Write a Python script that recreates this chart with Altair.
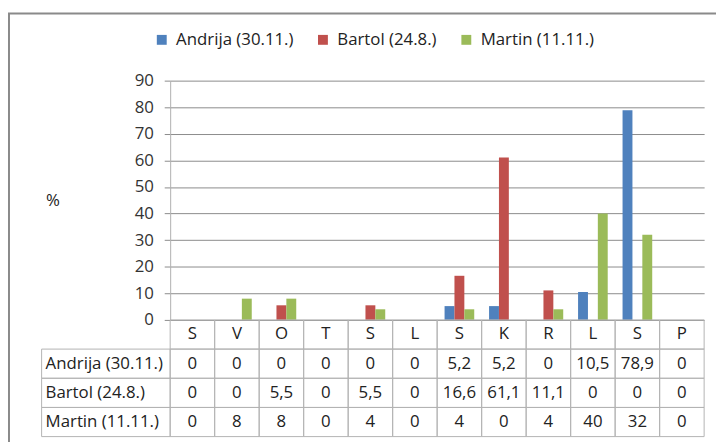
import altair as alt
import pandas as pd

categories = ["S", "V", "O", "T", "S", "L", "S", "K", "R", "L", "S", "P"]
series_names = ["Andrija (30.11.)", "Bartol (24.8.)", "Martin (11.11.)"]
andrija = [0, 0, 0, 0, 0, 0, 5.2, 5.2, 0, 10.5, 78.9, 0]
bartol = [0, 0, 5.5, 0, 5.5, 0, 16.6, 61.1, 11.1, 0, 0, 0]
martin = [0, 8, 8, 0, 4, 0, 4, 0, 4, 40, 32, 0]
colors = ["#4F81BD", "#C0504D", "#9BBB59"]
y_ticks = [0, 10, 20, 30, 40, 50, 60, 70, 80, 90]

FONT = "Open Sans"
FS = 17


def fmt(v):
    return f"{v:g}".replace(".", ",")


rows = []
for i, c in enumerate(categories):
    for s, vals in zip(series_names, [andrija, bartol, martin]):
        rows.append(dict(idx=i, cat=c, series=s, value=vals[i]))
bars_df = pd.DataFrame(rows)

table_rows = []
for i, c in enumerate(categories):
    table_rows.append(dict(idx=i, row="cat", label=c))
    for s, vals in zip(series_names, [andrija, bartol, martin]):
        table_rows.append(dict(idx=i, row=s, label=fmt(vals[i])))
table_df = pd.DataFrame(table_rows)
rowlab_df = pd.DataFrame({"row": series_names})

x_enc = alt.X("idx:O", scale=alt.Scale(paddingInner=0, paddingOuter=0), axis=None)
ty = alt.Y(
    "row:N",
    scale=alt.Scale(domain=["cat"] + series_names, range=[242, 360], paddingInner=0, paddingOuter=0),
    axis=None,
)

frame = alt.Chart(pd.DataFrame({"a": [0]})).mark_rect(
    fill="transparent", stroke="#8a8a8a", strokeWidth=2
).encode(x=alt.value(-163), x2=alt.value(620), y=alt.value(-68), y2=alt.value(420))

bars = alt.Chart(bars_df).mark_bar().encode(
    x=x_enc,
    xOffset=alt.XOffset(
        "series:N",
        scale=alt.Scale(domain=series_names, paddingInner=0, paddingOuter=0.75),
    ),
    y=alt.Y(
        "value:Q",
        scale=alt.Scale(domain=[0, 90], range=[242, 0]),
        axis=alt.Axis(
            values=y_ticks,
            title="%",
            titleAngle=0,
            titleX=-126,
            titleY=121,
            titleAlign="left",
            titleBaseline="middle",
            titleFont=FONT,
            titleFontSize=FS,
            titleFontWeight="normal",
            titleColor="#222222",
            grid=True,
            gridColor="#8c8c8c",
            domainColor="#b0b0b0",
            tickColor="#8c8c8c",
            tickSize=6,
            labelPadding=11,
            labelFont=FONT,
            labelFontSize=FS,
            labelColor="#333333",
        ),
    ),
    color=alt.Color(
        "series:N",
        scale=alt.Scale(domain=series_names, range=colors),
        legend=alt.Legend(
            orient="none",
            legendX=-17,
            legendY=-50,
            direction="horizontal",
            title=None,
            symbolType="square",
            symbolSize=100,
            symbolStrokeWidth=0,
            labelFont=FONT,
            labelFontSize=FS,
            labelColor="#222222",
            labelOffset=6,
            columnPadding=21,
        ),
    ),
)

cells = alt.Chart(table_df).mark_rect(
    fill="transparent", stroke="#b3b3b3", strokeWidth=1
).encode(x=x_enc, y=ty)

cell_text = alt.Chart(table_df).mark_text(
    font=FONT, fontSize=FS, color="#222222"
).encode(x=x_enc, y=ty, text="label:N")

rowlab_cells = alt.Chart(rowlab_df).mark_rect(
    fill="transparent", stroke="#b3b3b3", strokeWidth=1
).encode(x=alt.value(-130), x2=alt.value(0), y=ty)

rowlab_text = alt.Chart(rowlab_df).mark_text(
    font=FONT, fontSize=FS, color="#222222", align="left"
).encode(x=alt.value(-126), y=ty, text="row:N")

chart = (
    alt.layer(frame, bars, cells, cell_text, rowlab_cells, rowlab_text)
    .resolve_scale(y="independent")
    .properties(
        width=540,
        height=360,
        autosize="none",
        padding={"left": 164, "top": 71, "right": 12, "bottom": 3},
    )
    .configure_view(stroke=None)
)

chart.save("out.html", embed_options={"renderer": "svg", "actions": False})
